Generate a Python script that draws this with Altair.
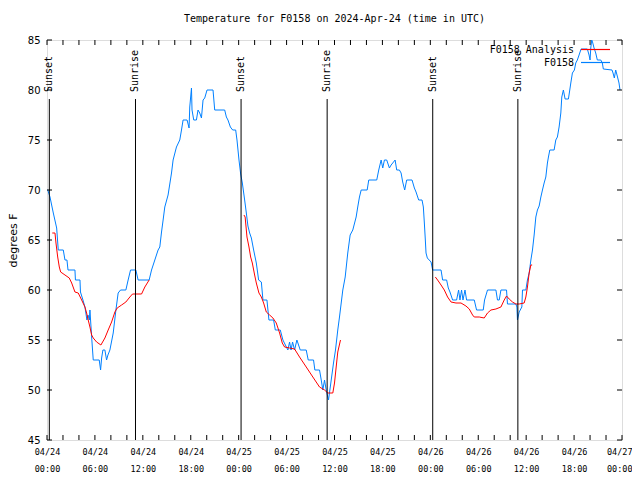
import altair as alt
import pandas as pd

# ---- Observed temperature, F0158 (hours since 2024-04-24 00:00 UTC, deg F)
obs_hours = [0.04, 0.1, 0.375, 0.79, 1.21, 1.41, 2.04, 2.25, 2.5, 2.63, 3.5, 3.56, 4.13, 4.19, 4.5, 4.75, 5.0, 5.13, 5.31, 5.375,
             5.59, 5.79, 6.54, 6.71, 6.84, 7.0, 7.25, 7.46, 7.63, 7.875, 8.29, 8.63, 8.91, 9.21, 9.875, 10.16, 10.46, 11.125, 11.41, 12.79,
             13.09, 13.5, 13.91, 14.125, 14.34, 14.54, 14.75, 15.16, 15.59, 15.79, 16.21, 16.625, 16.84, 17.04, 17.54, 17.79, 17.875, 18.09, 18.16, 18.375,
             18.71, 18.91, 19.125, 19.34, 19.54, 19.75, 20.04, 20.79, 21.0, 22.25, 22.46, 22.66, 22.96, 23.25, 23.625, 23.79, 24.04, 24.25, 24.46, 24.75,
             24.96, 25.16, 25.375, 25.59, 25.875, 26.21, 26.5, 26.84, 27.04, 27.54, 27.79, 28.375, 28.59, 29.21, 29.54, 30.16, 30.375, 30.56, 30.75, 31.0,
             31.29, 31.71, 32.46, 32.71, 33.375, 33.54, 34.125, 34.34, 34.54, 34.75, 34.96, 35.25, 35.59, 35.875, 36.125, 36.41, 36.625, 37.04, 37.34, 37.66,
             37.96, 38.29, 38.71, 38.91, 39.125, 39.34, 40.09, 40.29, 41.29, 41.54, 41.84, 42.04, 42.25, 42.54, 42.875, 43.09, 43.29, 43.59, 43.79, 44.125,
             44.34, 44.54, 44.79, 45.04, 45.71, 46.0, 46.21, 46.54, 46.96, 47.125, 47.25, 47.375, 47.46, 47.625, 48.09, 48.29, 49.34, 49.54, 50.04, 50.25,
             50.46, 50.79, 51.29, 51.54, 51.71, 51.91, 52.09, 52.34, 52.54, 53.5, 53.79, 54.625, 54.79, 55.16, 56.21, 56.41, 56.625, 56.84, 57.54, 57.66,
             58.71, 58.84, 58.91, 59.125, 59.46, 59.54, 59.96, 60.16, 60.375, 60.59, 60.79, 61.0, 61.21, 61.41, 61.625, 61.84, 62.04, 62.25, 62.46, 62.66,
             62.79, 62.96, 63.5, 63.71, 63.91, 64.125, 64.34, 64.46, 64.66, 64.875, 65.29, 65.46, 65.59, 65.79, 66.04, 66.21, 66.41, 66.625, 66.875, 67.66,
             67.875, 68.0, 68.09, 68.21, 68.31, 68.5, 68.71, 68.91, 69.34, 69.54, 69.66, 70.75, 70.875, 71.04, 71.21, 71.375, 71.625, 71.75]
obs_temps = [70, 70, 69.3, 67.7, 66.2, 64, 64, 63, 63, 62, 62, 61, 61, 59.8, 59, 58.3, 57, 57.5, 57, 58,
             55.3, 53, 53, 52, 53.2, 54, 54, 53, 53.5, 54, 55.7, 58, 59.7, 60, 60, 61, 62, 62, 61, 61,
             62, 63, 64, 64.3, 65.8, 67, 68.3, 69.5, 71.7, 73, 74.3, 75, 76, 77, 77, 76.2, 78.3, 80.2, 78, 77,
             77, 78, 77.7, 77.2, 79, 79.2, 80, 80, 78, 78, 77.3, 77, 76.3, 76, 76, 75, 73, 71.6, 70.7, 69,
             67.7, 66.4, 65.7, 65.2, 64, 62.7, 61, 60.8, 59, 59, 57, 57, 56, 56, 55, 54, 54.8, 54, 54.8, 54,
             55, 54, 54, 53, 53, 52, 52, 51, 50, 51, 50, 49, 51, 52.7, 54, 56, 57.3, 60, 61.3, 63.7,
             65.5, 66, 67.3, 68.3, 69.3, 70, 70, 71, 71, 72, 73, 72.2, 73, 73, 72.2, 72.5, 72.7, 73, 72, 72,
             71.7, 70.8, 70, 71, 71, 70.2, 69.8, 69, 69, 68.3, 66.7, 65, 63.7, 63.2, 62.8, 62, 62, 61, 61, 60.2,
             59.8, 59, 59, 60, 59, 60, 59, 60, 59, 59, 58, 58, 59, 60, 60, 59, 59, 60, 60, 58.6,
             58.6, 58.3, 57, 57.8, 58.3, 60, 60, 61, 61.7, 63, 64, 65.5, 67.3, 68, 68.4, 69.3, 70, 70.7, 71.3, 72.7,
             73.3, 74, 74, 75, 75.3, 76.3, 77.7, 79.3, 80, 79.1, 79.1, 80, 80.7, 81.7, 82, 82.7, 83, 83.5, 84.1, 84.1,
             83.5, 83, 84.2, 85, 84.8, 84.2, 83.7, 83, 83, 82.7, 82.1, 82, 81.7, 81.2, 82, 81.5, 80.7, 80]

# ---- Analysis temperature (three overnight segments)
ana_hours = [0.66, 1.0, 1.125, 1.34, 1.54, 1.71, 2.25, 2.79, 3.09, 3.5, 3.91, 4.34, 4.75, 4.96, 5.16, 5.375, 5.59, 5.79, 6.21, 6.75,
             7.25, 7.66, 8.09, 8.5, 8.79, 9.34, 9.875, 10.375, 10.71, 11.84, 12.25, 12.79,
             24.66, 24.81, 25.04, 25.29, 25.5, 25.71, 26.0, 26.21, 26.54, 26.84, 27.125, 27.46, 27.875, 28.29, 28.71, 29.125, 29.46, 29.75,
             30.375, 31.0, 31.625, 32.46, 33.29, 34.125, 34.75, 35.16, 35.79, 36.0, 36.21, 36.41, 36.75,
             48.625, 48.91, 49.34, 49.75, 50.16, 50.59, 51.21, 51.84, 52.46, 52.875, 53.29, 53.5, 54.125, 54.75, 55.16, 55.59, 56.21, 56.84,
             57.25, 57.54, 57.875, 58.29, 58.71, 59.125, 59.75, 59.96, 60.16, 60.375, 60.59, 60.75]
ana_temps = [65.7, 65.7, 64.7, 63.3, 62.3, 61.8, 61.5, 61.2, 60.7, 59.8, 59.7, 59, 58.3, 57.7, 57, 56.3, 55.5, 55.2, 54.8, 54.5,
             55.2, 56, 56.8, 57.8, 58.2, 58.5, 58.8, 59.3, 59.6, 59.6, 60.3, 61,
             67.5, 67.3, 65.3, 64.3, 63.3, 62.7, 61.5, 60.7, 59.7, 59.3, 58.7, 57.8, 57.5, 57.2, 56.7, 55.7, 54.7, 54.3,
             54.2, 54.1, 53.3, 52.3, 51.3, 50.3, 50, 49.7, 49.7, 50.7, 52.3, 53.8, 55,
             61.3, 61, 60.5, 60, 59.3, 58.8, 58.7, 58.7, 58.4, 58.1, 57.5, 57.3, 57.3, 57.2, 57.7, 58, 58.1, 58.3,
             59, 59.4, 59.1, 58.8, 58.6, 58.6, 58.7, 59.3, 60.3, 61.7, 62.5, 62.5]
ana_segment = [1] * 32 + [2] * 31 + [3] * 30

# ---- Sunrise / sunset markers
sun_hours = [0.29, 11.08, 24.3, 35.08, 48.3, 58.96]
sun_labels = ["Sunset", "Sunrise", "Sunset", "Sunrise", "Sunset", "Sunrise"]

# ---- Axes
x_tick_hours = list(range(0, 73, 6))
x_minor_hours = list(range(0, 73, 2))
y_ticks = [45, 50, 55, 60, 65, 70, 75, 80, 85]

# ---- Legend
legend_labels = ["F0158 Analysis", "F0158"]
legend_colors = ["#ff0000", "#0080ff"]

W, H = 575, 400
MONO = "DejaVu Sans Mono"
SANS = "DejaVu Sans"

obs = pd.DataFrame({"h": obs_hours, "t": obs_temps})
ana = pd.DataFrame({"h": ana_hours, "t": ana_temps, "seg": ana_segment})
sun = pd.DataFrame({"h": sun_hours, "label": sun_labels})
xt = pd.DataFrame({"h": x_minor_hours})
yt = pd.DataFrame({"t": y_ticks})

xscale = alt.Scale(domain=[0, 72], nice=False, zero=False)
yscale = alt.Scale(domain=[45, 85], nice=False, zero=False)

label_expr = ("['04/' + (24 + floor(datum.value / 24)), "
              "(datum.value % 24 < 10 ? '0' : '') + (datum.value % 24) + ':00']")

xaxis = alt.Axis(values=x_tick_hours, labelExpr=label_expr, ticks=False, domain=False, grid=False,
                 title=None, labelFont=MONO, labelFontSize=8.5, labelColor="black",
                 labelPadding=7, labelLineHeight=17, labelFlush=False, labelOverlap=False,
                 labelAlign={"condition": {"test": "datum.value >= 72", "value": "right"}, "value": "center"},
                 labelOffset={"condition": {"test": "datum.value >= 72", "value": 10}, "value": 0})
yaxis = alt.Axis(values=y_ticks, ticks=False, domain=False, grid=False, title="degrees F",
                 titleFont=SANS, titleFontSize=11, titleFontWeight="normal", titleColor="black",
                 titlePadding=9, labelFont=SANS, labelFontSize=10, labelColor="black", labelPadding=7)

obs_line = alt.Chart(obs).mark_line(color="#0080ff", strokeWidth=1, clip=True).encode(
    x=alt.X("h:Q", scale=xscale, axis=xaxis), y=alt.Y("t:Q", scale=yscale, axis=yaxis), order="h:Q")

ana_line = alt.Chart(ana).mark_line(color="#ff0000", strokeWidth=1, clip=True).encode(
    x=alt.X("h:Q", scale=xscale), y=alt.Y("t:Q", scale=yscale), detail="seg:N", order="h:Q")

sun_rules = alt.Chart(sun).mark_rule(color="black", strokeWidth=1).encode(
    x=alt.X("h:Q", scale=xscale), y=alt.value(59), y2=alt.value(H))

sun_text = alt.Chart(sun).mark_text(angle=270, align="left", baseline="middle",
                                    font=MONO, fontSize=10, color="black").encode(
    x=alt.X("h:Q", scale=xscale), y=alt.value(52), text="label:N")

tick_bottom = alt.Chart(xt).mark_rule(color="black").encode(
    x=alt.X("h:Q", scale=xscale), y=alt.value(H), y2=alt.value(H - 5))
tick_top = alt.Chart(xt).mark_rule(color="black").encode(
    x=alt.X("h:Q", scale=xscale), y=alt.value(0), y2=alt.value(5))
tick_left = alt.Chart(yt).mark_rule(color="black").encode(
    y=alt.Y("t:Q", scale=yscale), x=alt.value(0), x2=alt.value(5))
tick_right = alt.Chart(yt).mark_rule(color="black").encode(
    y=alt.Y("t:Q", scale=yscale), x=alt.value(W), x2=alt.value(W - 5))

leg = pd.DataFrame({"label": legend_labels})
legend_rows = [9.5, 22.5]
legend_layers = []
for name, col, row_y in zip(legend_labels, legend_colors, legend_rows):
    sub = alt.Chart(leg).transform_filter(alt.datum.label == name)
    legend_layers.append(sub.mark_rule(strokeWidth=1.2, stroke=col, color=col).encode(
        x=alt.value(534), x2=alt.value(563), y=alt.value(row_y)))
    legend_layers.append(sub.mark_text(align="right", baseline="middle", font=MONO, fontSize=10,
                                       color="black").encode(
        x=alt.value(527), y=alt.value(row_y), text="label:N"))

chart = alt.layer(
    obs_line, ana_line, sun_rules, sun_text, tick_bottom, tick_top, tick_left, tick_right,
    *legend_layers
).properties(
    width=W, height=H,
    title=alt.TitleParams("Temperature for F0158 on 2024-Apr-24 (time in UTC)", font=MONO,
                          fontSize=10, fontWeight="normal", color="black", anchor="middle",
                          offset=11),
    autosize=alt.AutoSizeParams(type="none"),
    padding={"left": 39, "top": 32, "right": 10, "bottom": 32},
).configure_view(stroke="black", strokeWidth=1).configure(background="white")

chart.save("out.html", embed_options={"renderer": "svg", "actions": False})
